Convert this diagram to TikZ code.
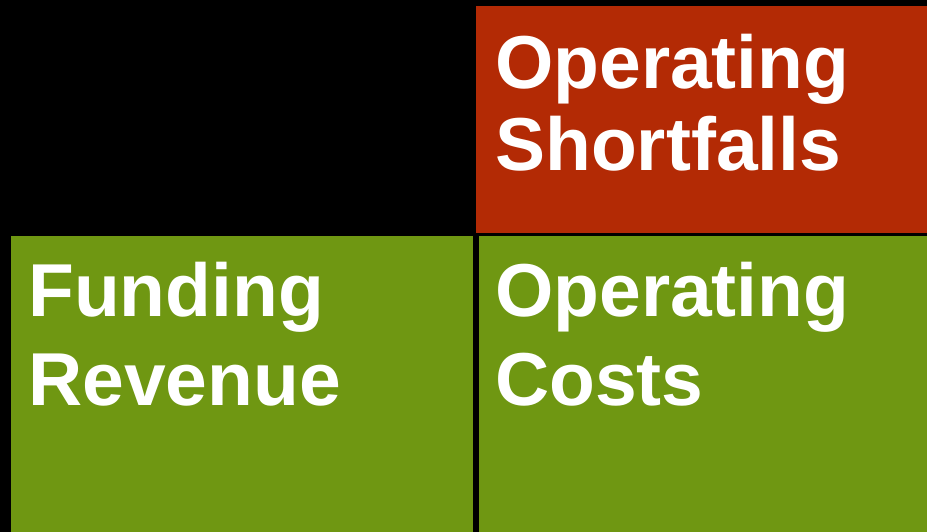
\documentclass[tikz,border=0pt]{standalone}
\usepackage{fontspec}
\setmainfont{Liberation Sans}
\definecolor{boxred}{RGB}{179,42,5}
\definecolor{boxgreen}{RGB}{111,151,18}
\begin{document}
\begin{tikzpicture}[x=1pt,y=-1pt,
  lbl/.style={anchor=base west,inner sep=0pt,text=white,font=\fontsize{75}{90}\bfseries\selectfont}]
\fill[black] (0,0) rectangle (927,532);
\useasboundingbox (0,0) rectangle (927,532);
\fill[boxred] (476,6) rectangle (927,233);
\fill[boxgreen] (11,236) rectangle (473,532);
\fill[boxgreen] (479,236) rectangle (927,532);
\node[lbl] (s1) at (495,89) {Operating};
\node[lbl] (s2) at (495,171) {Shortfalls};
\node[lbl] (f1) at (28,316) {Funding};
\node[lbl] (f2) at (28,405) {Revenue};
\node[lbl] (c1) at (495,316) {Operating};
\node[lbl] (c2) at (495,405) {Costs};
\end{tikzpicture}
\end{document}
